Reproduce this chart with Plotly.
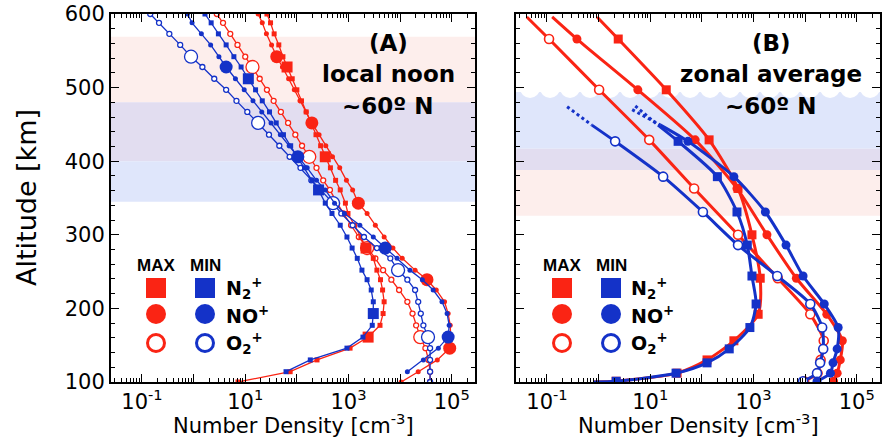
import plotly.graph_objects as go

RED = "#fa2414"
BLUE = "#1432c8"
FONT = "DejaVu Sans"

# ---------------- Panel A: local noon, ~60 N ----------------
# altitude grid [km] and log10 number density [cm^-3]
alt_a = [600, 588, 573, 558, 542, 528, 512, 497, 482, 467, 452, 436, 421, 406,
         391, 374, 361, 343, 329, 313, 297, 282, 268, 252, 239, 225, 209, 193,
         177, 161, 146, 130, 114, 100]

lg_n2_max_a = [1.42, 1.49, 1.56, 1.65, 1.73, 1.81, 1.91, 2.00, 2.09, 2.18, 2.28, 2.37, 2.46, 2.55,
               2.65, 2.75, 2.84, 2.94, 2.99, 3.12, 3.24, 3.34, 3.48, 3.55, 3.62, 3.66, 3.69, 3.67,
               3.61, 3.38, 3.03, 2.39, 1.87, 0.86]
lg_no_max_a = [1.25, 1.33, 1.41, 1.51, 1.61, 1.72, 1.84, 1.95, 2.06, 2.18, 2.29, 2.43, 2.56, 2.69,
               2.83, 2.96, 3.08, 3.19, 3.36, 3.52, 3.69, 3.86, 4.04, 4.29, 4.52, 4.70, 4.86, 4.93,
               4.97, 4.98, 4.96, 4.72, 4.35, 4.02]
lg_o2_max_a = [0.45, 0.57, 0.71, 0.85, 1.00, 1.14, 1.28, 1.42, 1.55, 1.69, 1.83, 1.97, 2.10, 2.24,
               2.38, 2.51, 2.64, 2.78, 2.90, 3.05, 3.20, 3.36, 3.52, 3.67, 3.83, 3.98, 4.14, 4.24,
               4.31, 4.39, 4.49, 4.55, 4.58, 4.58]
lg_n2_min_a = [0.22, 0.34, 0.48, 0.63, 0.78, 0.92, 1.06, 1.20, 1.33, 1.47, 1.60, 1.74, 1.88, 2.01,
               2.15, 2.29, 2.42, 2.55, 2.68, 2.84, 2.97, 3.07, 3.17, 3.26, 3.36, 3.44, 3.48, 3.48,
               3.46, 3.28, 2.97, 2.26, 1.79, None]
lg_no_min_a = [-0.12, -0.03, 0.15, 0.33, 0.49, 0.63, 0.81, 0.98, 1.15, 1.32, 1.50, 1.68, 1.85, 2.02,
               2.20, 2.38, 2.55, 2.73, 2.92, 3.22, 3.48, 3.71, 3.94, 4.19, 4.43, 4.64, 4.81, 4.91,
               4.95, 4.93, 4.74, 4.45, 4.14, None]
lg_o2_min_a = [-0.84, -0.67, -0.47, -0.26, -0.05, 0.17, 0.40, 0.63, 0.83, 1.04, 1.25, 1.46, 1.66, 1.86,
               2.07, 2.28, 2.47, 2.70, 2.86, 3.08, 3.30, 3.55, 3.81, 3.96, 4.14, 4.29, 4.35, 4.40,
               4.45, 4.54, 4.58, 4.58, 4.58, 4.58]

# altitudes carrying the large symbols
big_n2_max_a = [528, 406, 282, 161]
big_no_max_a = [542, 452, 343, 239, 146]
big_o2_max_a = [528, 406, 282, 161]
big_n2_min_a = [512, 361, 193]
big_no_min_a = [528, 406, 282, 161]
big_o2_min_a = [542, 452, 343, 252, 161]

# ---------------- Panel B: zonal average, ~60 N ----------------
alt_max_b = [596, 566, 497, 429, 363, 300, 241, 192, 156, 130, 112, 101, 100]
lg_n2_max_b = [-0.03, 0.38, 1.31, 2.14, 2.70, 2.97, 3.13, 3.09, 2.62, 2.10, 1.52, 0.34, -0.10]
lg_no_max_b = [-0.90, -0.42, 0.76, 1.87, 2.68, 3.26, 3.83, 4.42, 4.72, 4.68, 4.62, 4.55, None]
lg_o2_max_b = [-1.39, -0.96, 0.01, 0.98, 1.85, 2.70, 3.47, 4.10, 4.36, 4.30, 4.24, 3.98, None]

alt_min_b = [449, 427, 379, 331, 286, 244, 206, 174, 145, 126, 112, 101, 100]
lg_n2_min_b = [1.15, 1.54, 2.30, 2.68, 2.88, 2.97, 3.05, 2.93, 2.53, 2.10, 1.50, 0.34, -0.10]
lg_no_min_b = [1.20, 1.73, 2.62, 3.23, 3.63, 3.96, 4.37, 4.64, 4.62, 4.54, 4.49, 4.23, None]
lg_o2_min_b = [-0.13, 0.32, 1.25, 2.02, 2.70, 3.46, 4.10, 4.33, 4.35, 4.29, 4.23, 3.96, None]

# uncertain upper parts of the minimum profiles (dotted)
alt_dot_n2_b, lg_dot_n2_b = [475, 449], [0.71, 1.15]
alt_dot_no_b, lg_dot_no_b = [470, 449], [0.65, 1.20]
alt_dot_o2_b, lg_dot_o2_b = [474, 449], [-0.61, -0.13]

# shaded altitude bands [km]
bands_a = [(480, 569, "#fdeeec"), (400, 480, "#e2ddf0"), (345, 400, "#dfe6fb")]
bands_b = [(417, 494, "#dfe6fb"), (388, 417, "#e2ddf0"), (326, 388, "#fdeeec")]

W, H = 889, 440


def px(x):
    return x / W


def py(y):
    return 1 - y / H


def dens(lg):
    return [None if v is None else 10 ** v for v in lg]


fig = go.Figure()


def add_a(lg, big, color, symbol, hollow):
    big_size = 11 if symbol == "square" else 13
    sizes = [big_size if a in big else 5 for a in alt_a]
    fig.add_trace(go.Scatter(
        x=dens(lg), y=alt_a, mode="lines+markers", xaxis="x", yaxis="y",
        line=dict(color=color, width=1.3),
        marker=dict(symbol=symbol, size=sizes, opacity=1, color="white" if hollow else color,
                    line=dict(color=color, width=1.3 if hollow else 0)),
        showlegend=False))


def add_b(alt, lg, color, symbol, hollow, skip_first=False):
    n = len(alt)
    sizes = []
    for i in range(n):
        last = i == n - 1 and alt[i] == 100
        first = i == 0 and skip_first
        sizes.append(0 if (last or first) else 9)
    fig.add_trace(go.Scatter(
        x=dens(lg), y=alt, mode="lines+markers", xaxis="x2", yaxis="y2",
        line=dict(color=color, width=3, shape="spline", smoothing=0.7),
        marker=dict(symbol=symbol, size=sizes, opacity=1, color="white" if hollow else color,
                    line=dict(color=color, width=1.6 if hollow else 0)),
        showlegend=False))


def add_dot(alt, lg):
    fig.add_trace(go.Scatter(
        x=dens(lg), y=alt, mode="lines", xaxis="x2", yaxis="y2",
        line=dict(color=BLUE, width=3, dash="dot"), showlegend=False))


# panel A
add_a(lg_o2_max_a, big_o2_max_a, RED, "circle", True)
add_a(lg_no_max_a, big_no_max_a, RED, "circle", False)
add_a(lg_n2_max_a, big_n2_max_a, RED, "square", False)
add_a(lg_o2_min_a, big_o2_min_a, BLUE, "circle", True)
add_a(lg_no_min_a, big_no_min_a, BLUE, "circle", False)
add_a(lg_n2_min_a, big_n2_min_a, BLUE, "square", False)

# panel B
add_b(alt_max_b, lg_o2_max_b, RED, "circle", True, skip_first=True)
add_b(alt_max_b, lg_no_max_b, RED, "circle", False, skip_first=True)
add_b(alt_max_b, lg_n2_max_b, RED, "square", False, skip_first=True)
add_dot(alt_dot_o2_b, lg_dot_o2_b)
add_dot(alt_dot_no_b, lg_dot_no_b)
add_dot(alt_dot_n2_b, lg_dot_n2_b)
add_b(alt_min_b, lg_o2_min_b, BLUE, "circle", True, skip_first=True)
add_b(alt_min_b, lg_no_min_b, BLUE, "circle", False, skip_first=True)
add_b(alt_min_b, lg_n2_min_b, BLUE, "square", False, skip_first=True)

# ---------------- axes ----------------
x_major = [10.0 ** k for k in range(-1, 6)]
x_text = ["10<sup>-1</sup>", " ", "10<sup>1</sup>", " ", "10<sup>3</sup>", " ", "10<sup>5</sup>"]
x_minor = [m * 10.0 ** k for k in range(-2, 6) for m in range(2, 10)
           if 10 ** -1.6 < m * 10.0 ** k < 10 ** 5.45]
x_range = [-1.6, 5.45]

tick_font = dict(family=FONT, size=21, color="black")


def xaxis_style(domain):
    return dict(domain=domain, type="log", range=x_range, tickmode="array",
                tickvals=x_major, ticktext=x_text, ticks="inside", ticklen=8,
                tickwidth=1.2, tickcolor="black", showline=True, linewidth=2,
                linecolor="black", mirror="allticks", showgrid=False, zeroline=False,
                tickfont=tick_font, automargin=False,
                minor=dict(tickmode="array", tickvals=x_minor, ticks="inside",
                           ticklen=4, tickwidth=1, tickcolor="black", showgrid=False))


def yaxis_style(domain, labels):
    return dict(domain=domain, range=[100, 600], tickmode="linear", tick0=0, dtick=100,
                ticks="inside", ticklen=8, tickwidth=1.2, tickcolor="black",
                showline=True, linewidth=2, linecolor="black", mirror="allticks",
                showgrid=False, zeroline=False, showticklabels=labels, tickfont=tick_font,
                automargin=False,
                minor=dict(dtick=20, ticks="inside", ticklen=4, tickwidth=1,
                           tickcolor="black", showgrid=False))


ydom = [py(382), py(14)]
fig.update_layout(
    width=W, height=H, margin=dict(l=0, r=0, t=0, b=0, autoexpand=False),
    paper_bgcolor="white", plot_bgcolor="white",
    xaxis=xaxis_style([px(111), px(475)]),
    yaxis=yaxis_style(ydom, True),
    xaxis2=xaxis_style([px(516), px(880)]),
    yaxis2=yaxis_style(ydom, False),
    font=dict(family=FONT, color="black"),
)
fig.update_layout(yaxis2=dict(anchor="x2"), xaxis2=dict(anchor="y2"))

# ---------------- background bands ----------------
shapes = []
for lo, hi, col in bands_a:
    shapes.append(dict(type="rect", xref="x domain", yref="y", x0=0, x1=1, y0=lo, y1=hi,
                       fillcolor=col, line=dict(width=0), layer="below"))
for lo, hi, col in bands_b:
    shapes.append(dict(type="rect", xref="x2 domain", yref="y2", x0=0, x1=1, y0=lo, y1=hi,
                       fillcolor=col, line=dict(width=0), layer="below"))
# scalloped upper edge of the blue band in panel B
for k in range(19):
    cx = (14 + 20 * k) / 364
    shapes.append(dict(type="circle", xref="x2 domain", yref="y2", xsizemode="pixel",
                       ysizemode="pixel", xanchor=cx, yanchor=499.5, x0=-10, x1=10,
                       y0=-10, y1=10, fillcolor="white", line=dict(width=0), layer="below"))

# ---------------- legend blocks ----------------
annotations = []


def note(text, x, y, size, family=FONT, xanchor="center", angle=0):
    annotations.append(dict(text=text, x=px(x), y=py(y), xref="paper", yref="paper",
                            xanchor=xanchor, yanchor="middle", showarrow=False,
                            textangle=angle, font=dict(family=family, size=size, color="black")))


for (cmax, cmin, ctext) in [(156, 205, 224), (562, 611, 629)]:
    note("<b>MAX</b>", cmax, 265, 17, family="Liberation Sans Narrow, Liberation Sans")
    note("<b>MIN</b>", cmin, 265, 17, family="Liberation Sans Narrow, Liberation Sans")
    for cx, col in [(cmax, RED), (cmin, BLUE)]:
        shapes.append(dict(type="rect", xref="paper", yref="paper", x0=px(cx - 10), x1=px(cx + 10),
                           y0=py(298), y1=py(278), fillcolor=col, line=dict(width=0)))
        shapes.append(dict(type="circle", xref="paper", yref="paper", x0=px(cx - 10), x1=px(cx + 10),
                           y0=py(324), y1=py(304), fillcolor=col, line=dict(width=0)))
        shapes.append(dict(type="circle", xref="paper", yref="paper", x0=px(cx - 8.5), x1=px(cx + 8.5),
                           y0=py(351.5), y1=py(334.5), fillcolor="white", line=dict(color=col, width=3)))
    for txt, yy in [("N<sub>2</sub><sup>+</sup>", 288), ("NO<sup>+</sup>", 315), ("O<sub>2</sub><sup>+</sup>", 343)]:
        note("<b>" + txt + "</b>", ctext, yy, 19, xanchor="left")

# panel labels
for cx, lines in [(388, ["(A)", "local noon", "~60º N"]), (771, ["(B)", "zonal average", "~60º N"])]:
    for txt, yy in zip(lines, [43, 74, 106]):
        note("<b>" + txt + "</b>", cx, yy, 23)

# axis titles
for cx in [293, 698]:
    note("Number Density [cm<sup>-3</sup>]", cx, 424, 21)
note("Altitude [km]", 27, 198, 27, angle=-90)

fig.update_layout(shapes=shapes, annotations=annotations)
fig.write_html("out.html")
